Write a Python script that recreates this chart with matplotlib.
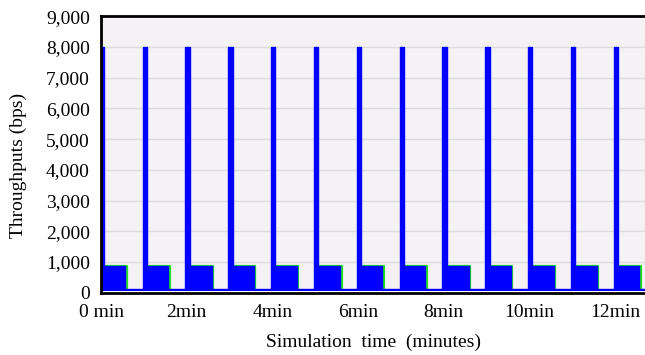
import numpy as np
import matplotlib.pyplot as plt

# values
burst_min = [0, 1, 2, 3, 4, 5, 6, 7, 8, 9, 10, 11, 12]
peak_bps = [8000, 8000, 8000, 8000, 8000, 8000, 8000, 8000, 8000, 8000, 8000, 8000, 8000]
hold_bps = [880, 880, 880, 880, 880, 880, 880, 880, 880, 880, 880, 880, 880]
hold_end = [0.57, 1.57, 2.58, 3.57, 4.57, 5.58, 6.57, 7.57, 8.58, 9.57, 10.57, 11.57, 12.57]
idle_bps = 110
end_min = 12.7

xticks = [0, 2, 4, 6, 8, 10, 12]
xticklabels = ["0 min", "2min", "4min", "6min", "8min", "10min", "12min"]
yticks = [0, 1000, 2000, 3000, 4000, 5000, 6000, 7000, 8000, 9000]

# build the step outline of the blue series
xs, ys = [0], [idle_bps]
gx, gy = [], []
for k, t in enumerate(burst_min):
    s = max(t - 0.03, 0)
    e = t + 0.07
    h = hold_end[k]
    xs += [s, s, e, e, h, h]
    ys += [idle_bps, peak_bps[k], peak_bps[k], hold_bps[k], hold_bps[k], idle_bps]
    gx += [e, h + 0.035, h + 0.035, np.nan]
    gy += [hold_bps[k], hold_bps[k], idle_bps, np.nan]
xs.append(end_min)
ys.append(idle_bps)

plt.rcParams['font.family'] = ['Liberation Serif', 'DejaVu Serif']

fig = plt.figure(figsize=(6.45, 3.55), dpi=100)
ax = fig.add_axes([101 / 645, (355 - 292.6) / 355, 1 - 101 / 645, (292.6 - 16.3) / 355])
ax.set_facecolor('#f5f2f5')

ax.plot(gx, gy, color='#22e022', lw=1.6, zorder=2)
ax.fill_between(xs, 0, ys, color='#0000ff', lw=0, zorder=3)
ax.plot(xs, ys, color='#0000ff', lw=1.0, zorder=3)
ax.axhspan(0, 45, color='white', zorder=4, lw=0)

ax.set_xlim(0, end_min)
ax.set_ylim(0, 9000)
ax.set_xticks(xticks)
ax.set_xticklabels(xticklabels)
ax.set_yticks(yticks)
ax.set_yticklabels([f"{v:,}" for v in yticks])
ax.tick_params(length=0, labelsize=14, pad=8)
ax.grid(axis='y', color='#dcdcdc', lw=1)
ax.set_axisbelow(True)

for side in ['left', 'top', 'bottom']:
    ax.spines[side].set_linewidth(2)
    ax.spines[side].set_zorder(5)
ax.spines['right'].set_visible(False)

ax.set_xlabel('Simulation  time  (minutes)', fontsize=14, labelpad=9)
ax.set_ylabel('Throughputs (bps)', fontsize=14)
ax.yaxis.set_label_coords(-0.136, 0.46)

fig.savefig('out.png', dpi=100)
